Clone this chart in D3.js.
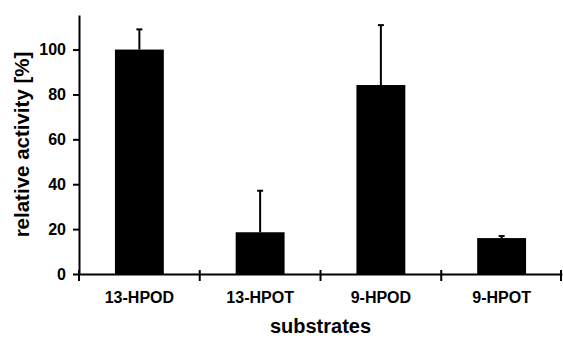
<!DOCTYPE html>
<html>
<head>
<meta charset="utf-8">
<script src="https://cdn.jsdelivr.net/npm/d3@7"></script>
<style>
  body { margin: 0; background: #fff; }
  svg { display: block; font-family: "Liberation Sans", Arial, sans-serif; font-weight: bold; }
</style>
</head>
<body>
<svg width="563" height="338"></svg>
<script>
var categories = ["13-HPOD", "13-HPOT", "9-HPOD", "9-HPOT"];
var activity = [100, 18.6, 84.2, 16.0];
var errUp = [9, 18.5, 26.7, 0.9];
var yTicks = [0, 20, 40, 60, 80, 100];

var svg = d3.select("svg");
var mLeft = 79, mRight = 562, mTop = 15, mBottom = 274;

var x = d3.scaleBand().domain(categories).range([mLeft, mRight]).padding(0);
var y = d3.scaleLinear().domain([0, 115.4]).range([mBottom, mTop]);

var barW = x.bandwidth() * 0.405;

// bars
svg.append("g").selectAll("rect")
  .data(categories)
  .enter().append("rect")
  .attr("x", function(d) { return x(d) + x.bandwidth() / 2 - barW / 2; })
  .attr("y", function(d, i) { return y(activity[i]); })
  .attr("width", barW)
  .attr("height", function(d, i) { return y(0) - y(activity[i]); })
  .attr("fill", "#000");

// error bars (upper only)
var eb = svg.append("g").attr("stroke", "#000").attr("stroke-width", 2);
categories.forEach(function(c, i) {
  var cx = x(c) + x.bandwidth() / 2;
  eb.append("line")
    .attr("x1", cx).attr("x2", cx)
    .attr("y1", y(activity[i])).attr("y2", y(activity[i] + errUp[i]));
  eb.append("line")
    .attr("x1", cx - 3).attr("x2", cx + 3)
    .attr("y1", y(activity[i] + errUp[i])).attr("y2", y(activity[i] + errUp[i]));
});

// y axis
var yAxis = svg.append("g")
  .attr("transform", "translate(" + mLeft + ",0)")
  .call(d3.axisLeft(y).tickValues(yTicks).tickSize(6).tickSizeOuter(0).tickPadding(7));
yAxis.select(".domain").attr("stroke-width", 2);
yAxis.selectAll(".tick line").attr("stroke-width", 2);
yAxis.selectAll(".tick text")
  .attr("font-size", 16).attr("font-weight", "bold")
  .attr("font-family", "Liberation Sans, Arial, sans-serif").attr("fill", "#000");

// x axis
var xAxis = svg.append("g")
  .attr("transform", "translate(0," + mBottom + ")")
  .call(d3.axisBottom(x).tickSize(0).tickSizeOuter(0).tickPadding(18));
xAxis.select(".domain").attr("stroke-width", 2);
xAxis.selectAll(".tick text")
  .attr("font-size", 16).attr("font-weight", "bold")
  .attr("font-family", "Liberation Sans, Arial, sans-serif").attr("fill", "#000");

// category boundary ticks crossing the x axis
var bounds = categories.map(function(c) { return x(c); }).concat([mRight]);
svg.append("g").selectAll("line")
  .data(bounds)
  .enter().append("line")
  .attr("x1", function(d) { return d === mRight ? d - 1 : d; })
  .attr("x2", function(d) { return d === mRight ? d - 1 : d; })
  .attr("y1", mBottom - 4).attr("y2", mBottom + 7)
  .attr("stroke", "#000").attr("stroke-width", 2);

// axis titles
svg.append("text")
  .attr("x", (mLeft + mRight) / 2).attr("y", 333)
  .attr("text-anchor", "middle")
  .attr("font-size", 20)
  .text("substrates");

svg.append("text")
  .attr("transform", "translate(29," + 144.5 + ") rotate(-90)")
  .attr("text-anchor", "middle")
  .attr("font-size", 20.5)
  .text("relative activity [%]");
</script>
</body>
</html>
